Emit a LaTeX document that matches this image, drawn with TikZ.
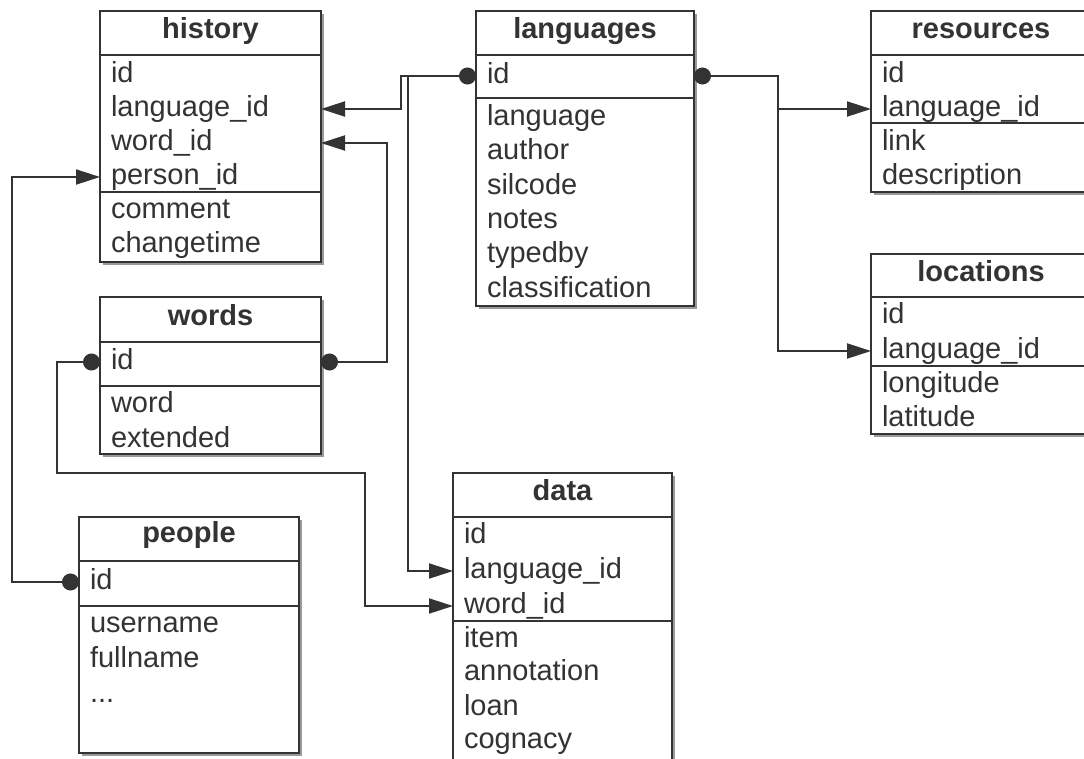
\documentclass[tikz,border=0pt]{standalone}
\usepackage{fontspec}
\setmainfont{Liberation Sans}
\usetikzlibrary{arrows.meta,shadows}
\definecolor{ink}{HTML}{333333}
\tikzset{
  tbl/.style={draw=ink, line width=2.2pt, fill=white, inner sep=0pt, outer sep=0pt, anchor=north west,
    drop shadow={shadow xshift=3pt, shadow yshift=-3pt, opacity=0.4, fill=black}},
  fld/.style={anchor=west, inner xsep=11pt, inner ysep=4pt, outer sep=0pt, text height=20pt, text depth=6pt,
    align=left, font=\fontsize{29pt}{34pt}\selectfont, text=ink},
  hdr/.style={anchor=base, inner sep=0pt, font=\fontsize{29pt}{34pt}\selectfont\bfseries, text=ink},
  divline/.style={draw=ink, line width=2pt},
  fk/.style={draw=ink, line width=2pt, {Circle[length=17pt]}-{Triangle[length=24pt,width=15pt]}},
  fkplain/.style={draw=ink, line width=2pt, {Circle[length=17pt]}-},
  refarr/.style={draw=ink, line width=2pt, -{Triangle[length=24pt,width=15pt]}},
}
\begin{document}
\begin{tikzpicture}[x=1pt,y=-1pt]
\useasboundingbox (0,0) rectangle (1084,758);
\clip (0,0) rectangle (1084,758);

% ---------- tables ----------
\node[tbl, minimum width=221pt, minimum height=251pt] (history) at (100,11) {};
\node[tbl, minimum width=218pt, minimum height=295pt] (languages) at (476,11) {};
\node[tbl, minimum width=220pt, minimum height=181pt] (resources) at (871,11) {};
\node[tbl, minimum width=220pt, minimum height=180pt] (locations) at (871,254) {};
\node[tbl, minimum width=221pt, minimum height=157pt] (words) at (100,297) {};
\node[tbl, minimum width=220pt, minimum height=236pt] (people) at (79,517) {};
\node[tbl, minimum width=219pt, minimum height=317pt] (data) at (453,473) {};

% dividers
\draw[divline] (100,55) -- (321,55);  \draw[divline] (100,192) -- (321,192);
\draw[divline] (476,55) -- (694,55);  \draw[divline] (476,98) -- (694,98);
\draw[divline] (871,55) -- (1091,55); \draw[divline] (871,123) -- (1091,123);
\draw[divline] (871,297) -- (1091,297); \draw[divline] (871,366) -- (1091,366);
\draw[divline] (100,342) -- (321,342); \draw[divline] (100,386) -- (321,386);
\draw[divline] (79,561) -- (299,561);  \draw[divline] (79,606) -- (299,606);
\draw[divline] (453,517) -- (672,517); \draw[divline] (453,621) -- (672,621);

% ---------- history ----------
\node[hdr] (history-h) at (210.5,38) {history};
\node[fld, text width=199pt] (hist-id) at (100,75) {id};
\node[fld, text width=199pt] (hist-lang) at (100,109) {language\_id};
\node[fld, text width=199pt] (hist-word) at (100,143) {word\_id};
\node[fld, text width=199pt] (hist-person) at (100,177) {person\_id};
\node[fld, text width=199pt] (hist-comment) at (100,211) {comment};
\node[fld, text width=199pt] (hist-time) at (100,245) {changetime};

% ---------- languages ----------
\node[hdr] (languages-h) at (585,38) {languages};
\node[fld, text width=196pt] (lang-id) at (476,76) {id};
\node[fld, text width=196pt] (lang-language) at (476,118) {language};
\node[fld, text width=196pt] (lang-author) at (476,152) {author};
\node[fld, text width=196pt] (lang-silcode) at (476,187) {silcode};
\node[fld, text width=196pt] (lang-notes) at (476,221) {notes};
\node[fld, text width=196pt] (lang-typedby) at (476,255) {typedby};
\node[fld, text width=196pt] (lang-class) at (476,290) {classification};

% ---------- resources ----------
\node[hdr] (resources-h) at (981,38) {resources};
\node[fld, text width=198pt] (res-id) at (871,75) {id};
\node[fld, text width=198pt] (res-lang) at (871,109) {language\_id};
\node[fld, text width=198pt] (res-link) at (871,143) {link};
\node[fld, text width=198pt] (res-desc) at (871,177) {description};

% ---------- locations ----------
\node[hdr] (locations-h) at (981,281) {locations};
\node[fld, text width=198pt] (loc-id) at (871,316) {id};
\node[fld, text width=198pt] (loc-lang) at (871,351) {language\_id};
\node[fld, text width=198pt] (loc-long) at (871,385) {longitude};
\node[fld, text width=198pt] (loc-lat) at (871,419) {latitude};

% ---------- words ----------
\node[hdr] (words-h) at (210.5,325) {words};
\node[fld, text width=199pt] (words-id) at (100,362) {id};
\node[fld, text width=199pt] (words-word) at (100,405) {word};
\node[fld, text width=199pt] (words-ext) at (100,440) {extended};

% ---------- people ----------
\node[hdr] (people-h) at (189,542) {people};
\node[fld, text width=198pt] (people-id) at (79,582) {id};
\node[fld, text width=198pt] (people-user) at (79,625) {username};
\node[fld, text width=198pt] (people-full) at (79,660) {fullname};
\node[fld, text width=198pt] (people-more) at (79,695) {...};

% ---------- data ----------
\node[hdr] (data-h) at (562.5,500) {data};
\node[fld, text width=197pt] (data-id) at (453,536) {id};
\node[fld, text width=197pt] (data-lang) at (453,571) {language\_id};
\node[fld, text width=197pt] (data-word) at (453,606) {word\_id};
\node[fld, text width=197pt] (data-item) at (453,640) {item};
\node[fld, text width=197pt] (data-ann) at (453,673) {annotation};
\node[fld, text width=197pt] (data-loan) at (453,708) {loan};
\node[fld, text width=197pt] (data-cog) at (453,741) {cognacy};

% ---------- connector bends ----------
\coordinate (xa) at (401,0);
\coordinate (xb) at (408,0);
\coordinate (xc) at (387,0);
\coordinate (c4a) at (57,473);
\coordinate (c4b) at (365,473);
\coordinate (xe) at (12,0);
\coordinate (xf) at (778,0);

% languages.id -> history.language_id
\draw[fk] (lang-id.west) -| (xa |- hist-lang.east) -- (hist-lang.east);
% languages.id -> data.language_id
\draw[refarr] (xb |- lang-id.west) |- (data-lang.west);
% words.id -> history.word_id
\draw[fk] (words-id.east) -| (xc |- hist-word.east) -- (hist-word.east);
% words.id -> data.word_id
\draw[fk] (words-id.west) -| (c4a) -- (c4b) |- (data-word.west);
% people.id -> history.person_id
\draw[fk] (people-id.west) -| (xe |- hist-person.west) -- (hist-person.west);
% languages.id -> locations.language_id
\draw[fk] (lang-id.east) -| (xf |- loc-lang.west) -- (loc-lang.west);
% languages.id -> resources.language_id
\draw[refarr] (xf |- res-lang.west) -- (res-lang.west);
\end{tikzpicture}
\end{document}
